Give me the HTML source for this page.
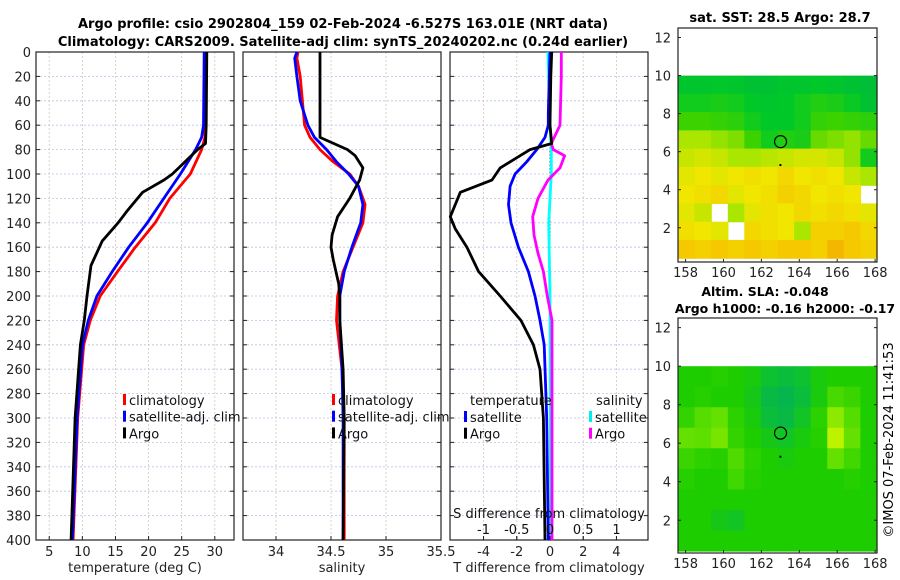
<!DOCTYPE html>
<html><head><meta charset="utf-8">
<style>
html,body{margin:0;padding:0;background:#fff;width:900px;height:580px;overflow:hidden}
svg{font-family:"DejaVu Sans","Liberation Sans",sans-serif}
</style></head>
<body>
<svg id="fig" width="900" height="580" viewBox="0 0 900 580" xmlns="http://www.w3.org/2000/svg">
<text x="343" y="28" font-size="13" font-weight="bold" text-anchor="middle">Argo profile: csio 2902804_159 02-Feb-2024 -6.527S 163.01E (NRT data)</text>
<text x="343" y="46" font-size="13" font-weight="bold" text-anchor="middle">Climatology: CARS2009. Satellite-adj clim: synTS_20240202.nc (0.24d earlier)</text>
<text x="780" y="22" font-size="13" font-weight="bold" text-anchor="middle">sat. SST: 28.5 Argo: 28.7</text>
<text x="765" y="296" font-size="12.5" font-weight="bold" text-anchor="middle">Altim. SLA: -0.048</text>
<text x="785" y="313" font-size="12.5" font-weight="bold" text-anchor="middle">Argo h1000: -0.16 h2000: -0.17</text>
<text transform="translate(893,440) rotate(-90)" font-size="13" text-anchor="middle">©IMOS 07-Feb-2024 11:41:53</text>
<g id="plots"></g>
</svg>
<script>
// depth levels (m)
const depthsT = [0,60,75,80,100,105,115,130,140,155,175,200,220,240,300,400];
const tempArgo = [28.8,28.7,28.6,27.4,23.6,22.3,19.1,16.8,15.4,13.0,11.3,10.7,10.3,9.7,8.9,8.3];
const depthsC = [0,60,70,80,100,120,140,160,180,200,220,240,300,400];
const tempClim = [28.5,28.5,28.5,28.0,26.3,23.2,21.0,18.0,15.3,12.7,11.2,10.2,9.3,8.6];
const tempSat  = [28.4,28.3,28.0,27.1,24.8,22.3,19.8,17.0,14.5,12.2,10.9,10.0,9.2,8.5];
const depthsS = [0,5,20,40,60,70,80,85,95,105,120,135,150,160,170,190,200,220,260,300,400];
const salArgo = [34.40,34.40,34.40,34.40,34.40,34.40,34.65,34.72,34.79,34.76,34.67,34.56,34.51,34.50,34.52,34.57,34.58,34.58,34.61,34.62,34.61];
const depthsS2 = [0,5,20,40,60,70,80,90,100,110,125,140,160,180,200,220,260,300,400];
const salClim = [34.20,34.19,34.22,34.24,34.26,34.31,34.40,34.52,34.67,34.75,34.81,34.79,34.70,34.61,34.56,34.55,34.60,34.62,34.62];
const salSat  = [34.19,34.17,34.19,34.22,34.29,34.35,34.46,34.55,34.66,34.75,34.79,34.77,34.69,34.62,34.58,34.58,34.60,34.61,34.61];
const depthsD = [0,20,60,75,80,95,105,115,135,145,160,180,200,220,240,260,300,400];
const dTArgo = [0.1,0.05,0.0,0.1,-1.2,-3.0,-3.5,-5.4,-6.0,-5.7,-5.0,-4.3,-3.0,-1.75,-1.0,-0.6,-0.4,-0.3];
const depthsD2 = [0,50,60,70,80,90,100,110,125,140,160,180,200,220,240,300,400];
const dTSat = [0,-0.1,-0.1,-0.3,-0.8,-1.4,-2.1,-2.4,-2.5,-2.35,-1.9,-1.3,-0.9,-0.6,-0.35,-0.2,-0.1];
const depthsD3 = [0,20,60,75,80,85,95,105,120,135,150,165,180,200,220,400];
const dSArgo = [0.17,0.17,0.15,0.02,0.05,0.22,0.15,-0.03,-0.18,-0.26,-0.24,-0.18,-0.1,-0.04,0.03,0.03];
const depthsD4 = [0,60,80,100,140,200,400];
const dSSat = [-0.03,0.0,0.02,0.02,-0.02,0.0,0.01];
const depthTicks = [0,20,40,60,80,100,120,140,160,180,200,220,240,260,280,300,320,340,360,380,400];
const tTicks = [5,10,15,20,25,30];
const sTicks = [34,34.5,35,35.5];
const dtTicks = [-4,-2,0,2,4];
const dsTicks = [-1,-0.5,0,0.5,1];
// map grids: rows from lat 10 (top) down to ~0.4, 12 columns lon 157.6..168.1
const sstGrid = [
[0.5,0.5,0.6,0.5,0.4,0.4,0.5,0.5,0.6,0.5,0.4,0.3],
[0.8,0.8,0.9,0.8,0.6,0.5,0.6,0.8,1.0,0.9,0.7,0.4],
[1.3,1.3,1.2,1.1,0.8,0.6,0.6,0.8,1.2,1.3,1.2,1.1],
[1.8,1.8,1.7,1.6,1.3,0.8,1.0,0.9,1.5,1.6,1.7,1.5],
[2.0,2.1,2.0,1.8,1.8,1.9,2.0,2.1,2.1,2.0,1.7,0.8],
[2.2,2.3,2.2,2.3,2.4,2.3,2.5,2.3,2.4,2.3,2.0,1.8],
[2.3,2.4,2.5,2.2,2.3,2.4,2.6,2.5,2.3,2.4,2.3,null],
[2.2,2.0,null,1.8,2.2,2.4,2.3,2.5,2.4,2.5,2.4,2.2],
[2.4,2.3,2.2,null,2.5,2.4,2.3,1.8,2.6,2.6,2.7,2.5],
[2.7,2.6,2.7,2.6,2.7,2.6,2.7,2.7,2.6,2.8,2.7,2.6]];
const slaGrid = [
[1.0,1.0,1.1,1.0,0.9,0.6,0.5,0.6,0.9,1.0,1.0,1.0],
[1.0,1.1,1.0,1.0,0.8,0.4,0.3,0.5,0.9,1.6,1.4,1.0],
[1.3,1.8,2.0,1.2,0.9,0.5,0.4,0.7,1.2,2.4,1.8,1.0],
[2.0,1.9,2.2,1.3,1.0,0.8,0.7,0.9,1.1,2.9,2.0,1.0],
[1.4,1.2,1.1,1.7,1.2,1.0,0.9,1.0,1.0,2.0,1.5,1.0],
[1.1,1.0,1.0,1.5,1.1,1.0,1.0,1.0,1.0,1.0,1.1,1.0],
[1.0,1.0,1.0,1.0,1.0,1.0,1.0,1.0,1.0,1.0,1.0,1.0],
[1.0,1.0,0.8,0.7,1.0,1.0,1.0,1.0,1.0,1.0,1.0,1.0],
[1.0,1.0,1.0,1.0,1.0,1.0,1.0,1.0,1.0,1.0,1.0,1.0]];
const latTicks = [2,4,6,8,10,12];
const lonTicks = [158,160,162,164,166,168];

const NS = "http://www.w3.org/2000/svg";
const root = document.getElementById('plots');
function mk(tag, attrs, parent){const e=document.createElementNS(NS,tag);for(const k in attrs)e.setAttribute(k,attrs[k]);(parent||root).appendChild(e);return e;}
const Y0=52, Y1=540;
const yD = d => Y0 + d*(Y1-Y0)/400;

function panel(name,x0,x1,vmin,vmax,xt,xlabel,showY){
  const g=mk('g',{});
  
  
  const sx = v => x0 + (v-vmin)*(x1-x0)/(vmax-vmin);
  depthTicks.forEach(d=>{
    const l=mk('line',{x1:x0,x2:x1,y1:yD(d),y2:yD(d),stroke:'#b8c4e8','stroke-width':0.8,'stroke-dasharray':'2,2'},g);
    
    
    mk('line',{x1:x0,x2:x0+4,y1:yD(d),y2:yD(d),stroke:'#222'},g);
    mk('line',{x1:x1-4,x2:x1,y1:yD(d),y2:yD(d),stroke:'#222'},g);
    if(showY){const t=mk('text',{x:x0-5,y:yD(d)+5,'font-size':13,'text-anchor':'end',fill:'#222'},g);t.textContent=d;
      
      }
  });
  xt.forEach(v=>{
    const X=sx(v);
    if(X>x0+1 && X<x1-1){mk('line',{x1:X,x2:X,y1:Y0,y2:Y1,stroke:'#dcc0c0','stroke-width':0.8,'stroke-dasharray':'2,2'},g);}
    mk('line',{x1:X,x2:X,y1:Y1-4,y2:Y1,stroke:'#222'},g);
    const t=mk('text',{x:X,y:556,'font-size':13,'text-anchor':'middle',fill:'#222'},g);t.textContent=v;
    
    
  });
  const f=mk('rect',{x:x0,y:Y0,width:x1-x0,height:Y1-Y0,fill:'none',stroke:'#222','stroke-width':1.2},g);
  
  
  const xl=mk('text',{x:(x0+x1)/2,y:572,'font-size':13,'text-anchor':'middle',fill:'#222'},g);xl.textContent=xlabel;
  
  
  return {g,sx};
}
function line(p,depths,vals,color,name,sx){
  const pts=depths.map((d,i)=>(sx||p.sx)(vals[i]).toFixed(1)+','+yD(d).toFixed(1)).join(' ');
  const l=mk('polyline',{points:pts,fill:'none',stroke:color,'stroke-width':2.8,'stroke-linejoin':'round'},p.g);
  
  
}
function legend(g,x,y,items){
  items.forEach((it,i)=>{
    mk('rect',{x:x-6,y:y+i*16.7-11,width:3,height:11,fill:it[1]},g);
    const t=mk('text',{x:x,y:y+i*16.7,'font-size':13,fill:'#111'},g);t.textContent=it[0];
    
    
  });
}
// Panel 1
const p1=panel('temperature-panel',36,234,3,32.9,tTicks,'temperature (deg C)',true);
line(p1,depthsC,tempClim,'#ff0000','temp-climatology-line');
line(p1,depthsC,tempSat,'#0000ff','temp-satellite-line');
line(p1,depthsT,tempArgo,'#000000','temp-argo-line');
legend(p1.g,129,405,[['climatology','#ff0000'],['satellite-adj. clim','#0000ff'],['Argo','#000']]);
// Panel 2
const p2=panel('salinity-panel',243,441,33.7,35.5,sTicks,'salinity',false);
line(p2,depthsS2,salClim,'#ff0000','sal-climatology-line');
line(p2,depthsS2,salSat,'#0000ff','sal-satellite-line');
line(p2,depthsS,salArgo,'#000000','sal-argo-line');
legend(p2.g,338,405,[['climatology','#ff0000'],['satellite-adj. clim','#0000ff'],['Argo','#000']]);
// Panel 3
const p3=panel('difference-panel',450,648,-6.02,5.9,dtTicks,'T difference from climatology',false);
const sxS = v => 550 + v*66.5;
mk('line',{x1:550,x2:550,y1:yD(55),y2:Y1,stroke:'#333','stroke-width':1,'stroke-dasharray':'1.5,2'},p3.g);
line(p3,depthsD4,dSSat,'#00ffff','dS-satellite-line',sxS);
line(p3,depthsD3,dSArgo,'#ff00ff','dS-argo-line',sxS);
line(p3,depthsD2,dTSat,'#0000ff','dT-satellite-line');
line(p3,depthsD,dTArgo,'#000000','dT-argo-line');
dsTicks.forEach(v=>{
  const t=mk('text',{x:sxS(v),y:534,'font-size':13,'text-anchor':'middle',fill:'#111'},p3.g);t.textContent=v;
  
  
  mk('line',{x1:sxS(v),x2:sxS(v),y1:536,y2:540,stroke:'#222'},p3.g);
});
const st=mk('text',{x:549,y:518,'font-size':13,'text-anchor':'middle',fill:'#111'},p3.g);st.textContent='S difference from climatology';


const th=mk('text',{x:470,y:405,'font-size':13,fill:'#111'},p3.g);th.textContent='temperature';


const sh=mk('text',{x:596,y:405,'font-size':13,fill:'#111'},p3.g);sh.textContent='salinity';


legend(p3.g,470,422,[['satellite','#0000ff'],['Argo','#000']]);
legend(p3.g,595,422,[['satellite','#00eeee'],['Argo','#ff00ff']]);

// Maps
function sstColor(v){const s=[[0,[0,180,70]],[0.6,[0,200,40]],[1.3,[60,210,0]],[1.8,[170,230,0]],[2.3,[240,230,0]],[2.7,[245,200,0]],[3,[240,150,0]]];
  for(let i=1;i<s.length;i++){if(v<=s[i][0]){const a=s[i-1],b=s[i],t=(v-a[0])/(b[0]-a[0]);return 'rgb('+a[1].map((c,j)=>Math.round(c+(b[1][j]-c)*t)).join(',')+')';}}return 'rgb(240,150,0)';}
function slaColor(v){const s=[[0,[0,170,100]],[0.5,[10,190,60]],[1,[30,205,0]],[2,[100,225,0]],[3,[200,245,0]]];
  for(let i=1;i<s.length;i++){if(v<=s[i][0]){const a=s[i-1],b=s[i],t=(v-a[0])/(b[0]-a[0]);return 'rgb('+a[1].map((c,j)=>Math.round(c+(b[1][j]-c)*t)).join(',')+')';}}return 'rgb(200,245,0)';}
function map(name,top,bottom,latTop,latBot,grid,cf){
  const g=mk('g',{});
  
  
  const x0=678,x1=877,lon0=157.6,lon1=168.1;
  const sx=l=>x0+(l-lon0)*(x1-x0)/(lon1-lon0);
  const sy=l=>top+(latTop-l)*(bottom-top)/(latTop-latBot);
  const dTop=10, dBot=0.4, rows=grid.length, cols=grid[0].length;
  const rh=(sy(dBot)-sy(dTop))/rows, cw=(x1-x0)/cols;
  grid.forEach((row,r)=>row.forEach((v,c)=>{
    if(v===null) return;
    const cell=mk('rect',{x:(x0+c*cw).toFixed(1),y:(sy(dTop)+r*rh).toFixed(1),width:(cw+0.6).toFixed(1),height:(rh+0.6).toFixed(1),fill:cf(v)},g);
    
    
  }));
  const mk1=mk('circle',{cx:sx(163.01),cy:sy(6.527),r:6,fill:'none',stroke:'#000','stroke-width':1.2},g);
  
  
  mk('rect',{x:sx(162.95),y:sy(5.35),width:2,height:2,fill:'#000'},g);
  mk('rect',{x:x0,y:top,width:x1-x0,height:bottom-top,fill:'none',stroke:'#222','stroke-width':1.2},g);
  latTicks.forEach(l=>{const Y=sy(l);mk('line',{x1:x0,x2:x0+3,y1:Y,y2:Y,stroke:'#222'},g);mk('line',{x1:x1-3,x2:x1,y1:Y,y2:Y,stroke:'#222'},g);
    const t=mk('text',{x:x0-7,y:Y+5,'font-size':13,'text-anchor':'end',fill:'#222'},g);t.textContent=l;
    
    });
  lonTicks.forEach(l=>{const X=sx(l);mk('line',{x1:X,x2:X,y1:bottom-3,y2:bottom,stroke:'#222'},g);
    const t=mk('text',{x:X,y:bottom+15,'font-size':13,'text-anchor':'middle',fill:'#222'},g);t.textContent=l;
    
    });
}
map('sst-map',28,262,12.5,0.2,sstGrid,sstColor);
map('sla-map',318,553,12.5,0.3,slaGrid,slaColor);
</script>
</body></html>
